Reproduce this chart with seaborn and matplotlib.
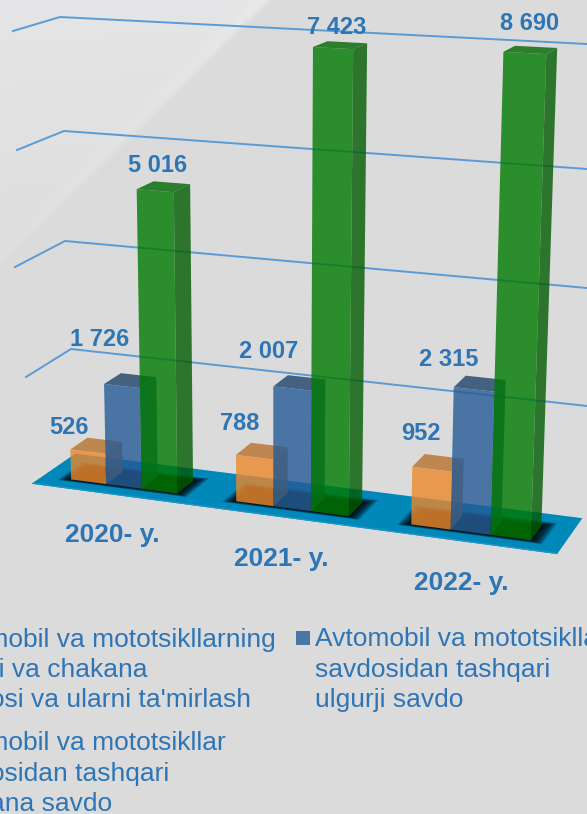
import numpy as np
import pandas as pd
import seaborn as sns
import matplotlib
matplotlib.use('Agg')
import matplotlib.pyplot as plt
from matplotlib.legend_handler import HandlerPatch
from matplotlib.patches import Patch, Polygon, Rectangle
from matplotlib.transforms import Affine2D, Transform

# ---- data -------------------------------------------------------------
years = ["2020- y.", "2021- y.", "2022- y."]
series_names = [
    "Avtomobil va mototsikllarning\nulgurji va chakana\nsavdosi va ularni ta'mirlash",
    "Avtomobil va mototsikllar\nsavdosidan tashqari\nulgurji savdo",
    "Avtomobil va mototsikllar\nsavdosidan tashqari\nchakana savdo",
]
repair_sales = [526, 788, 952]
wholesale = [1726, 2007, 2315]
retail = [5016, 7423, 8690]
# the last green bar is drawn shorter than its label in the picture
retail_drawn = [5016, 7423, 7500]
value_labels = ["526", "788", "952", "1 726", "2 007", "2 315", "5 016", "7 423", "8 690"]
grid_values = [2000, 4000, 6000, 8000]

# ---- layout ------------------------------------------------------------
W, H = 587, 814
BAR_COLORS = ["#EC892D", "#265B95", "#007A00"]
SIDE_COLORS = ["#A5682C", "#1F4873", "#025C01"]
TOP_COLORS = ["#B7722D", "#1E4469", "#006600"]
LEGEND_COLORS = ["#E99A50", "#4A76A6", "#2C8E2C"]
TEXT = "#2E75B6"
GRID = "#5B9BD5"
CAMERA = np.array([[1.5984579e+02, -1.9188540e-03, 1.8686957e+01, 1.2374051e+02],
                   [7.6142581e+00, -6.0860796e-02, -4.6245903e+00, 4.8638299e+02],
                   [-2.8728448e-02, -7.0331985e-06, 1.6318132e-02, 1.0]])
label_xy = [(69, 428), (240, 424), (421, 434), (100, 339), (269, 352), (449, 359),
            (158, 166), (337, 28), (530, 23)]
year_xy = [(112, 535), (281, 559), (461, 583)]
grid_paths = [[(26, 377), (71, 349), (587, 406)], [(15, 267), (65, 241), (587, 288)],
              [(17, 150), (64, 131), (587, 169)], [(13, 31), (60, 17), (587, 44)]]


def project(x, y, z):
    pts = np.column_stack([x, y, np.full_like(np.asarray(x, float), z) if np.isscalar(z) else z,
                           np.ones(len(x))])
    h = pts @ CAMERA.T
    return h[:, :2] / h[:, 2:]


class Front(Transform):
    """Maps (category position, value) on the plane z to display pixels."""
    input_dims = output_dims = 2
    is_affine = False

    def __init__(self, z=0.0):
        super().__init__()
        self.z = z

    def transform_non_affine(self, values):
        values = np.asarray(values, float)
        uv = project(values[:, 0], values[:, 1], self.z)
        return np.column_stack([uv[:, 0], H - uv[:, 1]])

    def inverted(self):
        raise NotImplementedError


class FirstLineHandle(HandlerPatch):
    """Puts the legend square beside the first line of a three-line label."""

    def create_artists(self, legend, orig_handle, xdescent, ydescent, width, height,
                       fontsize, trans):
        square = Rectangle((-xdescent, -ydescent + 23.5), width, width,
                           facecolor=orig_handle.get_facecolor(), edgecolor='none',
                           transform=trans)
        return [square]


plt.rcParams['font.family'] = ['Liberation Sans', 'DejaVu Sans']
fig = plt.figure(figsize=(W / 100, H / 100), dpi=100)
ax = fig.add_axes([0, 0, 1, 1])

# background: grey with a lighter diagonal wedge in the upper left
yy, xx = np.mgrid[0:H, 0:W]
d = xx + yy * 1.0125 - 273
fade = np.clip(1 - yy / 340, 0, 1)
bg = 219 + 10 * fade * np.clip(-d / 10, 0, 1) + 4 * fade * np.exp(-((d + 14) / 9) ** 2) \
     + 3 * np.clip(-d / 300, 0, 1) * (1 - fade)
bg_rgb = np.dstack([bg, bg, bg + 1.5 * np.clip(-d / 10, 0, 1) * fade]) / 255
fig.figimage(np.clip(bg_rgb, 0, 1), zorder=-5, origin='upper')

px = Affine2D().scale(1, -1).translate(0, H)

df = pd.DataFrame({
    "Year": years * 3,
    "Series": [s for s in series_names for _ in years],
    "Value": repair_sales + wholesale + retail_drawn,
})
sns.barplot(data=df, x="Year", y="Value", hue="Series", hue_order=series_names,
            palette=BAR_COLORS, saturation=1, width=0.65, gap=0, legend=False,
            errorbar=None, ax=ax)
ax.axis('off')
bars = [p for p in ax.patches]


def face(xs, ys, zs, color, zorder, alpha=0.8):
    uv = project(np.array(xs, float), np.array(ys, float), np.array(zs, float))
    ax.add_patch(Polygon(uv, closed=True, facecolor=color, edgecolor='none', alpha=alpha,
                         transform=px, zorder=zorder, clip_on=False))


# floor, with blurred shadows beneath each group
face([-.5, 2.5, 2.5, -.5], [0] * 4, [-.65, -.65, 1.87, 1.87], "#0088BB", 1, 1)
face([-.5, 2.5, 2.5, -.5], [0] * 4, [-.65, -.65, -.56, -.56], "#1C97C6", 1.05, 1)
N = 16
for c in range(3):
    for k in range(N):
        t = (N - k) / N
        ex, ez = .07 * t, .33 * t
        x0, x1 = c - .325 - ex, c + .325 + ex
        face([x0, x1, x1, x0], [0] * 4, [-ez * .5, -ez * .5, 1 + ez, 1 + ez], "black", 1.2, .11)

# gridlines
for path in grid_paths:
    ax.plot(*zip(*path), color=GRID, lw=1.4, transform=px, zorder=2, clip_on=False,
            solid_joinstyle='miter')

# the bars: seaborn's rectangles projected, with side and top faces added
front = Front(0.0)
for i, bar in enumerate(bars):
    hue_i = i // 3
    x0, x1, h = bar.get_x(), bar.get_x() + bar.get_width(), bar.get_height()
    bar.set_transform(front)
    bar.set_alpha(0.8)
    bar.set_edgecolor('none')
    bar.set_zorder(3.5 + hue_i)
    bar.set_clip_on(False)
    face([x1, x1, x1, x1], [0, h, h, 0], [0, 0, 1, 1], SIDE_COLORS[hue_i], 3 + hue_i)
    face([x0, x1, x1, x0], [h, h, h, h], [0, 0, 1, 1], TOP_COLORS[hue_i], 3 + hue_i)

# texts
for (x, y), s in zip(label_xy, value_labels):
    ax.text(x, y, s, transform=px, ha='center', va='center', color=TEXT, fontsize=17,
            fontweight='bold', zorder=10)
for (x, y), s in zip(year_xy, years):
    ax.text(x, y, s, transform=px, ha='center', va='center', color=TEXT, fontsize=19,
            fontweight='bold', zorder=10)

handles = [Patch(facecolor=LEGEND_COLORS[i], label=series_names[i]) for i in (0, 2, 1)]
leg = ax.legend(handles=handles, ncol=2, loc='upper left', bbox_to_anchor=(-85, 627.5),
                bbox_transform=px, frameon=False, fontsize=19, labelcolor=TEXT,
                borderpad=0, borderaxespad=0, handlelength=.53, handleheight=.53,
                handletextpad=.2, columnspacing=.75, labelspacing=.72,
                handler_map={Patch: FirstLineHandle()})
leg.set_zorder(10)
for t in leg.get_texts():
    t.set_linespacing(1.335)

fig.savefig('out.png', dpi=100)
